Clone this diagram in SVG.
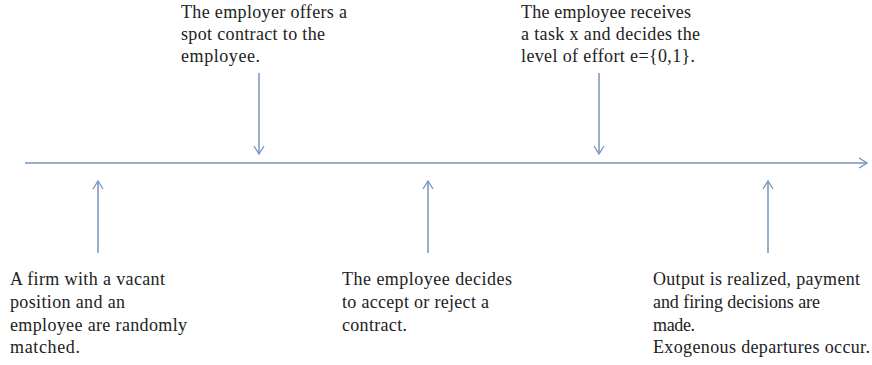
<svg xmlns="http://www.w3.org/2000/svg" width="872" height="365" viewBox="0 0 872 365">
<defs>
<marker id="chev" viewBox="0 0 10 12" refX="9" refY="6" markerWidth="10" markerHeight="12" markerUnits="userSpaceOnUse" orient="auto">
<path d="M1,1 L9,6 L1,11" fill="none" stroke="#7396bb" stroke-width="1.3"/>
</marker>
</defs>
<style>
text{font-family:'Liberation Serif',serif;font-size:18px;fill:#222;}
.c{stroke:#7396bb;stroke-width:1.5;fill:none;}
</style>
<rect width="872" height="365" fill="#fff"/>
<g id="connectors">
<line class="c" x1="25" y1="163" x2="867" y2="163" marker-end="url(#chev)"/>
<line class="c" x1="259" y1="73" x2="259" y2="154" marker-end="url(#chev)"/>
<line class="c" x1="599" y1="73" x2="599" y2="154" marker-end="url(#chev)"/>
<line class="c" x1="98" y1="253" x2="98" y2="181" marker-end="url(#chev)"/>
<line class="c" x1="428" y1="253" x2="428" y2="181" marker-end="url(#chev)"/>
<line class="c" x1="768" y1="253" x2="768" y2="181" marker-end="url(#chev)"/>
</g>
<g id="offer">
<text x="181" y="18" textLength="166" lengthAdjust="spacing">The employer offers a</text>
<text x="181" y="40" textLength="144" lengthAdjust="spacing">spot contract to the</text>
<text x="181" y="62" textLength="79" lengthAdjust="spacing">employee.</text>
</g>
<g id="effort">
<text x="521" y="18" textLength="170" lengthAdjust="spacing">The employee receives</text>
<text x="521" y="40" textLength="179" lengthAdjust="spacing">a task x and decides the</text>
<text x="521" y="62" textLength="174" lengthAdjust="spacing">level of effort e={0,1}.</text>
</g>
<g id="match">
<text x="10" y="285" textLength="155" lengthAdjust="spacing">A firm with a vacant</text>
<text x="10" y="308" textLength="115" lengthAdjust="spacing">position and an</text>
<text x="10" y="331" textLength="177" lengthAdjust="spacing">employee are randomly</text>
<text x="10" y="353" textLength="70" lengthAdjust="spacing">matched.</text>
</g>
<g id="accept">
<text x="342" y="285" textLength="170" lengthAdjust="spacing">The employee decides</text>
<text x="342" y="308" textLength="147" lengthAdjust="spacing">to accept or reject a</text>
<text x="342" y="331" textLength="65" lengthAdjust="spacing">contract.</text>
</g>
<g id="output">
<text x="653" y="285" textLength="207" lengthAdjust="spacing">Output is realized, payment</text>
<text x="653" y="308" textLength="167" lengthAdjust="spacing">and firing decisions are</text>
<text x="653" y="331" textLength="42" lengthAdjust="spacing">made.</text>
<text x="653" y="353" textLength="217" lengthAdjust="spacing">Exogenous departures occur.</text>
</g>
</svg>
